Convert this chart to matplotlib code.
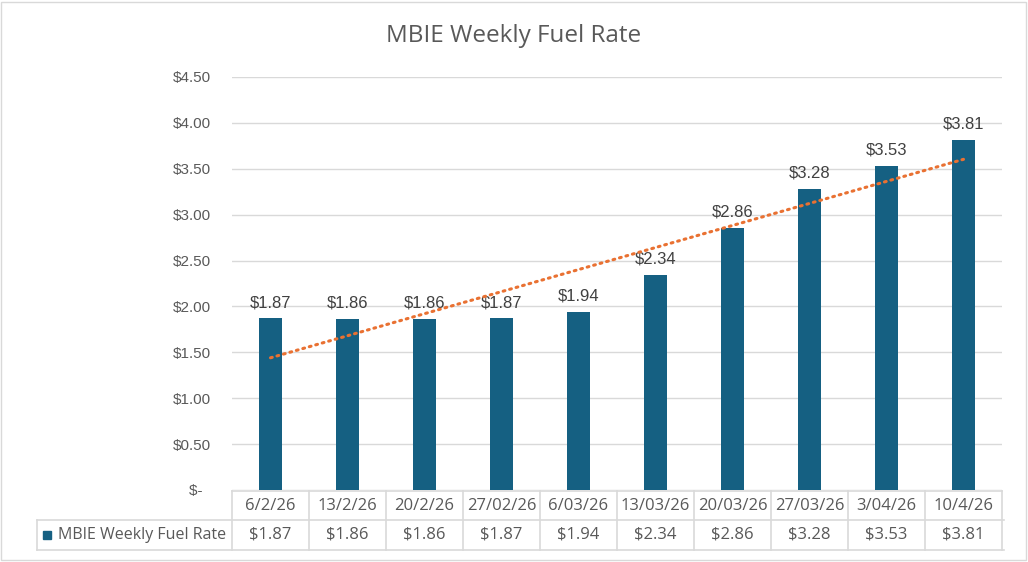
import numpy as np
import matplotlib
matplotlib.use("Agg")
from matplotlib import pyplot as plt
from matplotlib.lines import Line2D
from matplotlib.patches import Rectangle
import matplotlib.transforms as mtransforms

dates = ["6/2/26", "13/2/26", "20/2/26", "27/02/26", "6/03/26",
         "13/03/26", "20/03/26", "27/03/26", "3/04/26", "10/4/26"]
rates = [1.87, 1.86, 1.86, 1.87, 1.94, 2.34, 2.86, 3.28, 3.53, 3.81]
series_name = "MBIE Weekly Fuel Rate"
y_ticks = [0, 0.5, 1.0, 1.5, 2.0, 2.5, 3.0, 3.5, 4.0, 4.5]

bar_col = "#156082"
trend_col = "#E97132"
txt_col = "#595959"
grid_col = "#d9d9d9"

W, H = 1028, 562
fig = plt.figure(figsize=(W / 100, H / 100), dpi=100)
ax = fig.add_axes([232 / W, 1 - 490 / H, 770 / W, 413 / H])

x = np.arange(len(rates))
ax.bar(x, rates, width=0.31, color=bar_col, zorder=3)

# linear trendline (intercept set at 1.2)
xs = x + 1
y = np.array(rates)
b0 = 1.2
slope = np.sum(xs * (y - b0)) / np.sum(xs ** 2)
ax.plot(x, b0 + slope * xs, color=trend_col, lw=2.2,
        linestyle=(0, (0.6, 1.6)), dash_capstyle="round", zorder=4)

for xi, v in zip(x, rates):
    ax.annotate("$%.2f" % v, (xi, v), xytext=(0, 6), textcoords="offset points",
                ha="center", va="bottom", fontsize=12, color="#404040",
                family="Liberation Sans")

ax.set_xlim(-0.5, len(rates) - 0.5)
ax.set_ylim(0, 4.5)
ax.set_yticks(y_ticks)
ax.set_yticklabels(["$-  "] + ["$%.2f" % t for t in y_ticks[1:]],
                   fontsize=11, color=txt_col, family="Liberation Sans")
ax.tick_params(axis="y", length=0, pad=15)
ax.set_xticks([])
ax.grid(axis="y", color=grid_col, lw=1, zorder=0)
for s in ax.spines.values():
    s.set_visible(False)

# data table below the axes
trans = mtransforms.blended_transform_factory(ax.transData, fig.transFigure)
y_top, y_mid, y_bot = 1 - 491 / H, 1 - 520 / H, 1 - 550 / H
lkw = dict(color=grid_col, lw=1.2)
fig.add_artist(Line2D([-0.5, 9.5], [y_top, y_top], transform=trans, **lkw))
fig.add_artist(Line2D([37 / W, 1004 / W], [y_mid, y_mid], transform=fig.transFigure, **lkw))
fig.add_artist(Line2D([37 / W, 1004 / W], [y_bot, y_bot], transform=fig.transFigure, **lkw))
fig.add_artist(Line2D([37 / W, 37 / W], [y_mid, y_bot], transform=fig.transFigure, **lkw))
for i in range(len(rates) + 1):
    fig.add_artist(Line2D([i - 0.5, i - 0.5], [y_top, y_bot], transform=trans, **lkw))
for i, (d, v) in enumerate(zip(dates, rates)):
    fig.text(i, (y_top + y_mid) / 2, d, transform=trans, ha="center", va="center",
             fontsize=12, color=txt_col, family="Open Sans")
    fig.text(i, (y_mid + y_bot) / 2, "$%.2f" % v, transform=trans, ha="center",
             va="center", fontsize=12, color=txt_col, family="Open Sans")
fig.add_artist(Rectangle((43 / W, 1 - 539 / H), 8 / W, 8 / H,
                         transform=fig.transFigure, color=bar_col))
fig.text(58 / W, (y_mid + y_bot) / 2, series_name, ha="left", va="center",
         fontsize=11.5, color=txt_col, family="Open Sans")

fig.text(0.5, 1 - 36 / H, series_name, ha="center", va="center",
         fontsize=17.5, color=txt_col, family="Open Sans")

fig.add_artist(Rectangle((1 / W, 2 / H), (W - 3) / W, (H - 4) / H, fill=False,
                         edgecolor=grid_col, lw=1, transform=fig.transFigure))

fig.savefig("out.png", dpi=100)
